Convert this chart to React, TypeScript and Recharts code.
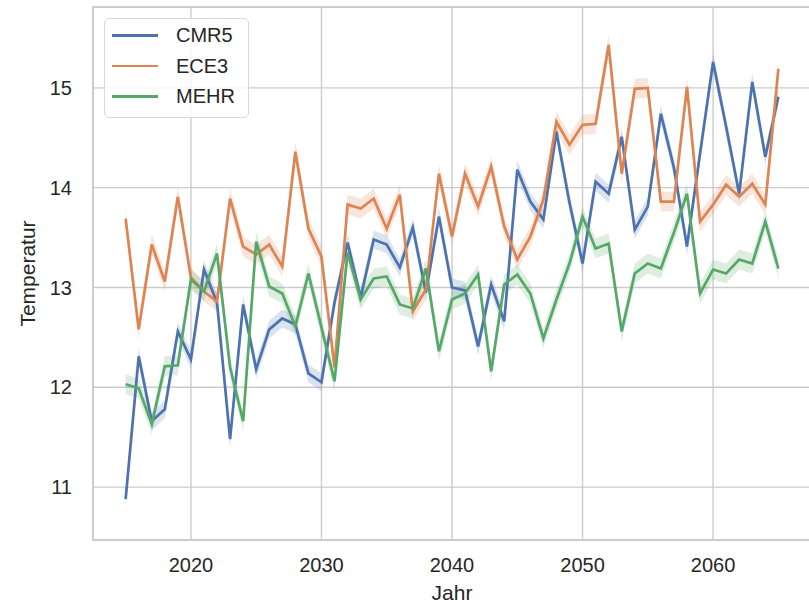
import React from 'react';
import { ComposedChart, Line, Area, XAxis, YAxis, CartesianGrid, ReferenceArea } from 'recharts';

const years = [
  2015, 2016, 2017, 2018, 2019, 2020, 2021, 2022, 2023, 2024,
  2025, 2026, 2027, 2028, 2029, 2030, 2031, 2032, 2033, 2034,
  2035, 2036, 2037, 2038, 2039, 2040, 2041, 2042, 2043, 2044,
  2045, 2046, 2047, 2048, 2049, 2050, 2051, 2052, 2053, 2054,
  2055, 2056, 2057, 2058, 2059, 2060, 2061, 2062, 2063, 2064, 2065,
];

const cmr5 = [
  10.88, 12.31, 11.66, 11.78, 12.56, 12.28, 13.18, 12.85, 11.48, 12.83,
  12.18, 12.58, 12.69, 12.63, 12.14, 12.05, 12.85, 13.45, 12.9, 13.48,
  13.43, 13.2, 13.6, 12.95, 13.71, 13.0, 12.97, 12.41, 13.03, 12.66,
  14.18, 13.86, 13.68, 14.56, 13.85, 13.24, 14.06, 13.94, 14.51, 13.58,
  13.81, 14.74, 14.2, 13.41, 14.34, 15.26, 14.61, 13.94, 15.06, 14.31, 14.91,
];

const ece3 = [
  13.69, 12.58, 13.43, 13.06, 13.91, 13.1, 12.96, 12.86, 13.89, 13.41,
  13.33, 13.43, 13.21, 14.36, 13.59, 13.31, 12.2, 13.83, 13.79, 13.89,
  13.59, 13.93, 12.76, 12.98, 14.14, 13.51, 14.14, 13.81, 14.21, 13.61,
  13.28, 13.51, 13.88, 14.66, 14.43, 14.63, 14.64, 15.43, 14.14, 14.99,
  15.0, 13.86, 13.86, 15.01, 13.66, 13.83, 14.03, 13.91, 14.04, 13.83, 15.19,
];

const mehr = [
  12.03, 11.99, 11.63, 12.21, 12.22, 13.08, 12.96, 13.34, 12.2, 11.66,
  13.46, 13.01, 12.94, 12.61, 13.14, 12.6, 12.06, 13.35, 12.88, 13.09,
  13.11, 12.83, 12.79, 13.19, 12.36, 12.88, 12.94, 13.13, 12.16, 13.03,
  13.13, 12.94, 12.49, 12.88, 13.24, 13.71, 13.39, 13.44, 12.56, 13.14,
  13.24, 13.19, 13.55, 13.94, 12.94, 13.18, 13.14, 13.28, 13.24, 13.66, 13.19,
];

const seriesNames = ['CMR5', 'ECE3', 'MEHR'];
const seriesKeys = ['cmr5', 'ece3', 'mehr'];
const seriesValues = [cmr5, ece3, mehr];
const seriesColors = ['#4c72b0', '#dd8452', '#55a868'];
const bandHalfWidth = [0.09, 0.1, 0.1];

const xTicks = [2020, 2030, 2040, 2050, 2060];
const yTicks = [11, 12, 13, 14, 15];
const xDomain = [2012.5, 2067.5];
const yDomain = [10.47, 15.81];

const data = years.map((year, i) => {
  const row: any = { year };
  seriesKeys.forEach((k, s) => {
    const v = seriesValues[s][i];
    row[k] = v;
    row[k + 'Band'] = [v - bandHalfWidth[s], v + bandHalfWidth[s]];
  });
  return row;
});

const FONT = '"Liberation Sans", Arial, "DejaVu Sans", sans-serif';
const TEXT = '#262626';

const XLabel = (props: any) => {
  const vb = props.viewBox || { x: 93, y: 540, width: 718, height: 66 };
  const cx = vb.x + vb.width / 2;
  return (
    <text x={cx} y={600} textAnchor="middle" fill={TEXT} fontSize={21} fontFamily={FONT}>
      Jahr
    </text>
  );
};

const YLabel = (props: any) => {
  const vb = props.viewBox || { x: 0, y: 7, width: 93, height: 533 };
  const cy = vb.y + vb.height / 2;
  const cx = 27;
  return (
    <text
      x={cx}
      y={cy}
      transform={`rotate(-90 ${cx} ${cy})`}
      textAnchor="middle"
      dominantBaseline="central"
      fill={TEXT}
      fontSize={21}
      fontFamily={FONT}
    >
      Temperatur
    </text>
  );
};

export default function App() {
  return (
    <div
      style={{
        position: 'fixed',
        left: 0,
        top: 0,
        width: 809,
        height: 606,
        overflow: 'hidden',
        background: '#ffffff',
      }}
    >
      <ComposedChart
        width={812}
        height={606}
        data={data}
        margin={{ top: 7, right: 1, bottom: 0, left: 0 }}
      >
        <CartesianGrid stroke="#cccccc" strokeWidth={1.4} />
        <XAxis
          type="number"
          dataKey="year"
          domain={xDomain}
          ticks={xTicks}
          allowDataOverflow
          tickLine={false}
          axisLine={false}
          height={66}
          tickSize={6}
          tickMargin={12}
          tick={{ fill: TEXT, fontSize: 20, fontFamily: FONT }}
          label={{ content: XLabel }}
        />
        <YAxis
          type="number"
          domain={yDomain}
          ticks={yTicks}
          allowDataOverflow
          tickLine={false}
          axisLine={false}
          width={93}
          tickSize={6}
          tickMargin={15}
          tick={{ fill: TEXT, fontSize: 20, fontFamily: FONT }}
          label={{ content: YLabel }}
        />
        <ReferenceArea
          x1={xDomain[0]}
          x2={xDomain[1]}
          y1={yDomain[0]}
          y2={yDomain[1]}
          fill="none"
          stroke="#cccccc"
          strokeWidth={2}
        />
        {seriesKeys.map((k, s) => [
          <Area
            key={k + 'band'}
            type="linear"
            dataKey={k + 'Band'}
            fill={seriesColors[s]}
            fillOpacity={0.2}
            stroke="none"
            isAnimationActive={false}
            activeDot={false}
          />,
          <Line
            key={k + 'line'}
            type="linear"
            dataKey={k}
            stroke={seriesColors[s]}
            strokeWidth={2.7}
            dot={false}
            activeDot={false}
            isAnimationActive={false}
          />,
        ])}
      </ComposedChart>
      <div
        style={{
          position: 'absolute',
          left: 104,
          top: 18,
          width: 145,
          height: 100,
          boxSizing: 'border-box',
          border: '1px solid #d9d9d9',
          borderRadius: 5,
          background: 'rgba(255,255,255,0.8)',
          fontFamily: FONT,
          fontSize: 20,
          color: TEXT,
        }}
      >
        {seriesNames.map((name, s) => (
          <div
            key={name}
            style={{
              position: 'absolute',
              left: 0,
              top: 16 + s * 30.7 - 12,
              height: 24,
              width: 145,
            }}
          >
            <div
              style={{
                position: 'absolute',
                left: 7,
                top: 11,
                width: 46,
                height: 2.7,
                background: seriesColors[s],
              }}
            />
            <div
              style={{
                position: 'absolute',
                left: 71,
                top: 0,
                height: 24,
                lineHeight: '24px',
                whiteSpace: 'nowrap',
              }}
            >
              {name}
            </div>
          </div>
        ))}
      </div>
    </div>
  );
}
